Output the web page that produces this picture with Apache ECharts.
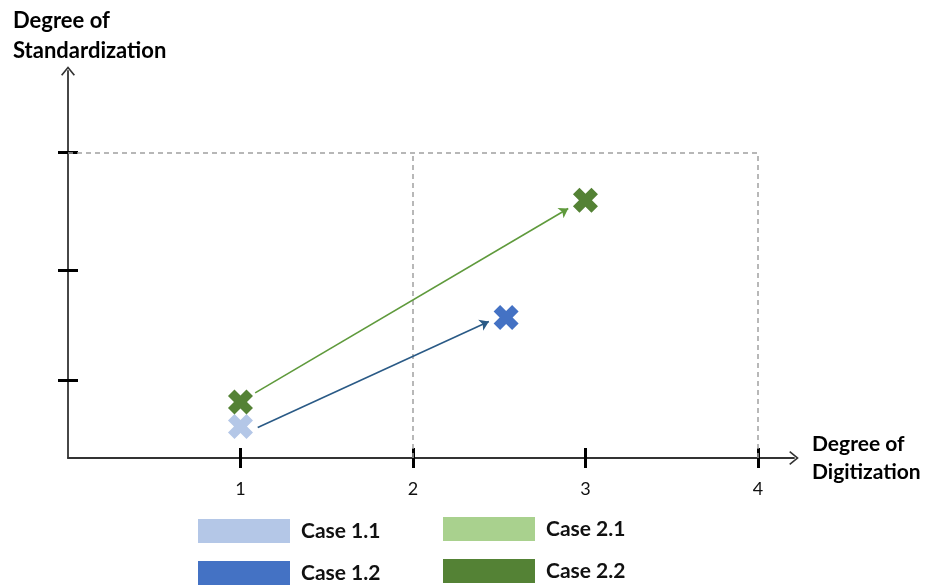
<!DOCTYPE html>
<html><head><meta charset="utf-8">
<script src="https://cdn.jsdelivr.net/npm/echarts@6/dist/echarts.min.js"></script>
<style>html,body{margin:0;padding:0;background:#fff}#c{width:931px;height:588px}</style>
</head><body><div id="c"></div>
<script>
// ---- data ----
const xTicks = [1, 2, 3, 4];
const yTicks = [0.76, 1.84, 3];
const case11 = [[1, 0.31]];
const case12 = [[2.54, 1.38]];
const case21 = [];
const case22 = [[1, 0.55], [3, 2.53]];
const arrowBlue = [[1.1, 0.3], [2.44, 1.34]];
const arrowGreen = [[1.085, 0.64], [2.9, 2.45]];
const boxLines = [[[0, 3], [4, 3]], [[2, 0], [2, 3]], [[4, 0], [4, 3]]];

// ---- styling ----
const FONT = 'Lato';
const crossPath = 'path://M2.6,0 L5,2.4 L7.4,0 L10,2.6 L7.6,5 L10,7.4 L7.4,10 L5,7.6 L2.6,10 L0,7.4 L2.4,5 L0,2.6 Z';
const chevron = 'path://M0,8.6 L7,0 L14,8.6 L12.7,9.6 L7,2.5 L1.3,9.6 Z';
const axisCol = '#333';
const X_MAX = 4.209, Y_MAX = 3.80;

const chart = echarts.init(document.getElementById('c'), null, {renderer: 'canvas'});
const baseX = {type: 'value', min: 0, max: X_MAX, gridIndex: 0, splitLine: {show: false}};
const baseY = {type: 'value', min: 0, max: Y_MAX, gridIndex: 0, splitLine: {show: false}};
const legendText = {fontFamily: FONT, fontWeight: 'bold', fontSize: 21, color: '#111', padding: [0, 0, 0, 6]};

chart.setOption({
  animation: false,
  backgroundColor: '#fff',
  title: {
    text: 'Degree of\nStandardization', left: 13, top: 6, padding: 0,
    textStyle: {fontFamily: FONT, fontWeight: 'bold', fontSize: 22, lineHeight: 30, color: '#000'}
  },
  grid: {left: 68, right: 137, top: 71, bottom: 130},
  xAxis: [
    Object.assign({}, baseX, {
      name: 'Degree of\nDigitization', nameLocation: 'end', nameGap: 18,
      nameTextStyle: {fontFamily: FONT, fontWeight: 'bold', fontSize: 21, lineHeight: 28, color: '#000', align: 'left', verticalAlign: 'middle', padding: [0, 0, 18, 0]},
      axisLine: {show: true, onZero: false, lineStyle: {color: axisCol, width: 1.8}, symbol: ['none', chevron], symbolSize: [14, 10], symbolOffset: [0, 0]},
      axisTick: {show: true, inside: false, length: 10, customValues: xTicks, lineStyle: {color: '#000', width: 3}},
      axisLabel: {show: true, customValues: xTicks, margin: 22, fontFamily: FONT, fontSize: 18, color: '#111'}
    }),
    Object.assign({}, baseX, {
      position: 'bottom',
      axisLine: {show: false},
      axisTick: {show: true, inside: true, length: 10, customValues: xTicks, lineStyle: {color: '#000', width: 3}},
      axisLabel: {show: false}
    })
  ],
  yAxis: [
    Object.assign({}, baseY, {
      axisLine: {show: true, onZero: false, lineStyle: {color: axisCol, width: 1.8}, symbol: ['none', chevron], symbolSize: [14, 10]},
      axisTick: {show: true, inside: false, length: 10, customValues: yTicks, lineStyle: {color: '#000', width: 3}},
      axisLabel: {show: false}
    }),
    Object.assign({}, baseY, {
      position: 'left',
      axisLine: {show: false},
      axisTick: {show: true, inside: true, length: 10, customValues: yTicks, lineStyle: {color: '#000', width: 3}},
      axisLabel: {show: false}
    })
  ],
  legend: [
    {data: ['Case 1.1', 'Case 1.2'], orient: 'vertical', left: 198, top: 519, padding: 0,
     itemWidth: 92, itemHeight: 24, itemGap: 18, icon: 'rect', selectedMode: false, textStyle: legendText},
    {data: ['Case 2.1', 'Case 2.2'], orient: 'vertical', left: 443, top: 517, padding: 0,
     itemWidth: 92, itemHeight: 24, itemGap: 18, icon: 'rect', selectedMode: false, textStyle: legendText}
  ],
  series: [
    {
      type: 'lines', coordinateSystem: 'cartesian2d', xAxisIndex: 0, yAxisIndex: 0, silent: true, z: 1,
      data: boxLines.map(c => ({coords: c})),
      symbol: ['none', 'none'],
      lineStyle: {color: '#a0a0a0', width: 1.5, type: [5, 4], opacity: 1}
    },
    {
      type: 'lines', coordinateSystem: 'cartesian2d', silent: true, z: 3,
      data: [{coords: arrowGreen}],
      symbol: ['none', 'arrow'], symbolSize: 9,
      lineStyle: {color: '#5f9a3c', width: 1.6, opacity: 1}
    },
    {
      type: 'lines', coordinateSystem: 'cartesian2d', silent: true, z: 3,
      data: [{coords: arrowBlue}],
      symbol: ['none', 'arrow'], symbolSize: 9,
      lineStyle: {color: '#2a5a86', width: 1.6, opacity: 1}
    },
    {name: 'Case 1.1', type: 'scatter', data: case11, symbol: crossPath, symbolSize: 25, itemStyle: {color: '#b4c7e7', opacity: 1}, z: 4},
    {name: 'Case 1.2', type: 'scatter', data: case12, symbol: crossPath, symbolSize: 25, itemStyle: {color: '#4472c4', opacity: 1}, z: 4},
    {name: 'Case 2.1', type: 'scatter', data: case21, symbol: crossPath, symbolSize: 25, itemStyle: {color: '#a9d18e', opacity: 1}, z: 4},
    {name: 'Case 2.2', type: 'scatter', data: case22, symbol: crossPath, symbolSize: 25, itemStyle: {color: '#548235', opacity: 1}, z: 4}
  ]
});
</script></body></html>
